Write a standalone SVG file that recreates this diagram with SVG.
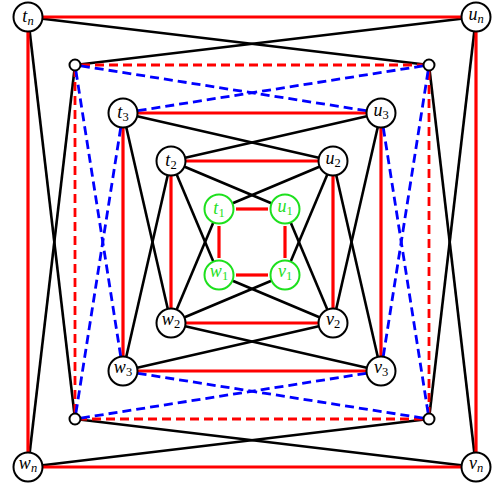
<svg xmlns="http://www.w3.org/2000/svg" width="492" height="489" viewBox="0 0 492 489">
<style>
.bk{stroke:#000;stroke-width:2.6;fill:none}
.rd{stroke:#ff0000;stroke-width:3.2;fill:none}
.rdd{stroke:#ff0000;stroke-width:2.8;fill:none;stroke-dasharray:9 5}
.bd{stroke:#0000ff;stroke-width:2.8;fill:none;stroke-dasharray:9 5}
.nd{fill:#fff;stroke:#000;stroke-width:2}
.gn{fill:#fff;stroke:#1ee01e;stroke-width:2}
.sm{fill:#fff;stroke:#000;stroke-width:2}
.lbl{font-family:"Liberation Serif","DejaVu Serif",serif;font-size:18px;fill:#000}
.glbl{font-family:"Liberation Serif","DejaVu Serif",serif;font-size:18px;fill:#1ee01e}
.it{font-style:italic}
.sub{font-size:12.5px}
</style>
<g id="connectors">
<g id="black-edges">
<line class="bk" x1="28" y1="17" x2="429" y2="65"/>
<line class="bk" x1="28" y1="17" x2="75" y2="419"/>
<line class="bk" x1="476" y1="17" x2="75" y2="65"/>
<line class="bk" x1="476" y1="17" x2="429" y2="419"/>
<line class="bk" x1="28" y1="467" x2="75" y2="65"/>
<line class="bk" x1="28" y1="467" x2="429" y2="419"/>
<line class="bk" x1="476" y1="467" x2="429" y2="65"/>
<line class="bk" x1="476" y1="467" x2="75" y2="419"/>
<line class="bk" x1="123" y1="113" x2="333" y2="161"/>
<line class="bk" x1="123" y1="113" x2="171" y2="323"/>
<line class="bk" x1="381" y1="113" x2="171" y2="161"/>
<line class="bk" x1="381" y1="113" x2="333" y2="323"/>
<line class="bk" x1="123" y1="371" x2="171" y2="161"/>
<line class="bk" x1="123" y1="371" x2="333" y2="323"/>
<line class="bk" x1="381" y1="371" x2="333" y2="161"/>
<line class="bk" x1="381" y1="371" x2="171" y2="323"/>
<line class="bk" x1="171" y1="161" x2="285" y2="209"/>
<line class="bk" x1="171" y1="161" x2="219" y2="275"/>
<line class="bk" x1="333" y1="161" x2="219" y2="209"/>
<line class="bk" x1="333" y1="161" x2="285" y2="275"/>
<line class="bk" x1="171" y1="323" x2="219" y2="209"/>
<line class="bk" x1="171" y1="323" x2="285" y2="275"/>
<line class="bk" x1="333" y1="323" x2="285" y2="209"/>
<line class="bk" x1="333" y1="323" x2="219" y2="275"/>
</g>
<g id="red-edges">
<line class="rd" x1="28" y1="17" x2="476" y2="17"/>
<line class="rd" x1="28" y1="17" x2="28" y2="467"/>
<line class="rd" x1="476" y1="17" x2="476" y2="467"/>
<line class="rd" x1="28" y1="467" x2="476" y2="467"/>
<polygon class="rd" points="123,113 381,113 381,371 123,371"/>
<polygon class="rd" points="171,161 333,161 333,323 171,323"/>
<line class="rd" x1="236" y1="209" x2="268" y2="209"/>
<line class="rd" x1="236" y1="275" x2="268" y2="275"/>
<line class="rd" x1="219" y1="226" x2="219" y2="258"/>
<line class="rd" x1="285" y1="226" x2="285" y2="258"/>
<line class="rdd" x1="81" y1="65" x2="423" y2="65"/>
<line class="rdd" x1="429" y1="71" x2="429" y2="413"/>
<line class="rdd" x1="423" y1="419" x2="81" y2="419"/>
<line class="rdd" x1="75" y1="413" x2="75" y2="71"/>
</g>
<g id="blue-edges">
<line class="bd" x1="80.9" y1="65.9" x2="366.2" y2="110.7"/>
<line class="bd" x1="75.9" y1="70.9" x2="120.7" y2="356.2"/>
<line class="bd" x1="423.1" y1="65.9" x2="137.8" y2="110.7"/>
<line class="bd" x1="428.1" y1="70.9" x2="383.3" y2="356.2"/>
<line class="bd" x1="75.9" y1="413.1" x2="120.7" y2="127.8"/>
<line class="bd" x1="80.9" y1="418.1" x2="366.2" y2="373.3"/>
<line class="bd" x1="428.1" y1="413.1" x2="383.3" y2="127.8"/>
<line class="bd" x1="423.1" y1="418.1" x2="137.8" y2="373.3"/>
</g>
</g>
<g id="node-tn"><circle class="nd" cx="28" cy="17" r="14.5"/><text class="lbl" x="28" y="22" text-anchor="middle"><tspan class="it">t</tspan><tspan class="sub it" dy="3">n</tspan></text></g>
<g id="node-un"><circle class="nd" cx="476" cy="17" r="14.5"/><text class="lbl" x="476" y="20" text-anchor="middle"><tspan class="it">u</tspan><tspan class="sub it" dy="3">n</tspan></text></g>
<g id="node-wn"><circle class="nd" cx="28" cy="467" r="14.5"/><text class="lbl" x="28" y="469" text-anchor="middle"><tspan class="it">w</tspan><tspan class="sub it" dy="3">n</tspan></text></g>
<g id="node-vn"><circle class="nd" cx="476" cy="467" r="14.5"/><text class="lbl" x="476" y="469" text-anchor="middle"><tspan class="it">v</tspan><tspan class="sub it" dy="3">n</tspan></text></g>
<g id="node-s-tl"><circle class="sm" cx="75" cy="65" r="5.5"/></g>
<g id="node-s-tr"><circle class="sm" cx="429" cy="65" r="5.5"/></g>
<g id="node-s-bl"><circle class="sm" cx="75" cy="419" r="5.5"/></g>
<g id="node-s-br"><circle class="sm" cx="429" cy="419" r="5.5"/></g>
<g id="node-t3"><circle class="nd" cx="123" cy="113" r="14.5"/><text class="lbl" x="123" y="118" text-anchor="middle"><tspan class="it">t</tspan><tspan class="sub" dy="3">3</tspan></text></g>
<g id="node-u3"><circle class="nd" cx="381" cy="113" r="14.5"/><text class="lbl" x="381" y="116" text-anchor="middle"><tspan class="it">u</tspan><tspan class="sub" dy="3">3</tspan></text></g>
<g id="node-w3"><circle class="nd" cx="123" cy="371" r="14.5"/><text class="lbl" x="123" y="373" text-anchor="middle"><tspan class="it">w</tspan><tspan class="sub" dy="3">3</tspan></text></g>
<g id="node-v3"><circle class="nd" cx="381" cy="371" r="14.5"/><text class="lbl" x="381" y="373" text-anchor="middle"><tspan class="it">v</tspan><tspan class="sub" dy="3">3</tspan></text></g>
<g id="node-t2"><circle class="nd" cx="171" cy="161" r="14.5"/><text class="lbl" x="171" y="166" text-anchor="middle"><tspan class="it">t</tspan><tspan class="sub" dy="3">2</tspan></text></g>
<g id="node-u2"><circle class="nd" cx="333" cy="161" r="14.5"/><text class="lbl" x="333" y="164" text-anchor="middle"><tspan class="it">u</tspan><tspan class="sub" dy="3">2</tspan></text></g>
<g id="node-w2"><circle class="nd" cx="171" cy="323" r="14.5"/><text class="lbl" x="171" y="325" text-anchor="middle"><tspan class="it">w</tspan><tspan class="sub" dy="3">2</tspan></text></g>
<g id="node-v2"><circle class="nd" cx="333" cy="323" r="14.5"/><text class="lbl" x="333" y="325" text-anchor="middle"><tspan class="it">v</tspan><tspan class="sub" dy="3">2</tspan></text></g>
<g id="node-t1"><circle class="gn" cx="219" cy="209" r="14.5"/><text class="glbl" x="219" y="214" text-anchor="middle"><tspan class="it">t</tspan><tspan class="sub" dy="3">1</tspan></text></g>
<g id="node-u1"><circle class="gn" cx="285" cy="209" r="14.5"/><text class="glbl" x="285" y="212" text-anchor="middle"><tspan class="it">u</tspan><tspan class="sub" dy="3">1</tspan></text></g>
<g id="node-w1"><circle class="gn" cx="219" cy="275" r="14.5"/><text class="glbl" x="219" y="277" text-anchor="middle"><tspan class="it">w</tspan><tspan class="sub" dy="3">1</tspan></text></g>
<g id="node-v1"><circle class="gn" cx="285" cy="275" r="14.5"/><text class="glbl" x="285" y="277" text-anchor="middle"><tspan class="it">v</tspan><tspan class="sub" dy="3">1</tspan></text></g>
</svg>
